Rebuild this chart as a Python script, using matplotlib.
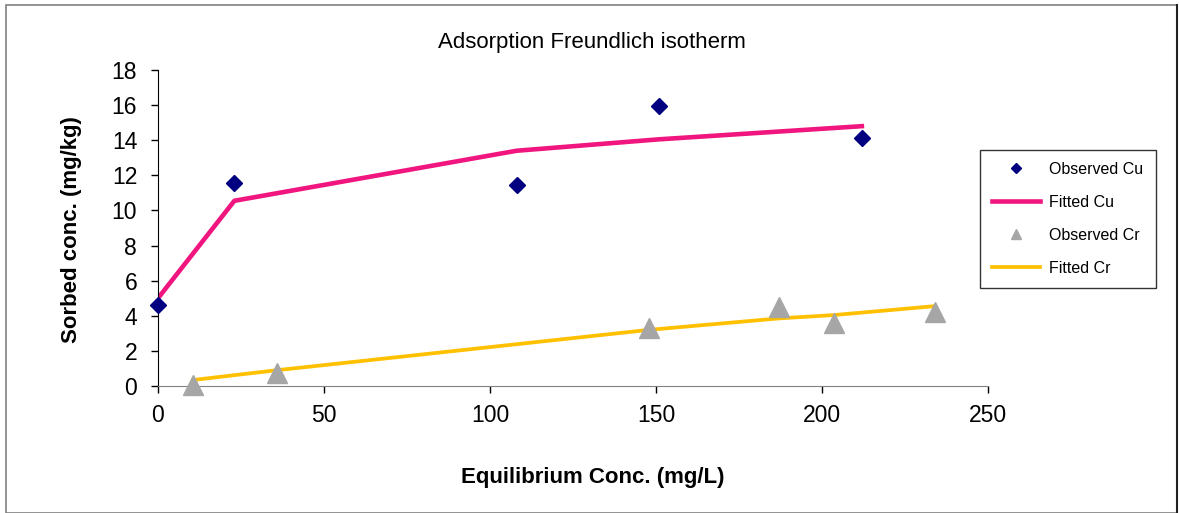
import matplotlib.pyplot as plt
from matplotlib.lines import Line2D
from matplotlib.patches import Rectangle

plt.rcParams['font.family'] = ['Liberation Sans', 'DejaVu Sans']

# observed / fitted copper
cu_x = [0, 23, 108, 150.8, 212]
cu_obs = [4.6, 11.55, 11.45, 15.95, 14.1]
cu_fit = [5.0, 10.55, 13.4, 14.05, 14.8]

# observed / fitted chromium
cr_x = [10.5, 35.8, 148, 187, 203.5, 234]
cr_obs = [0.05, 0.72, 3.32, 4.48, 3.6, 4.23]
cr_fit = [0.34, 0.9, 3.2, 3.85, 4.04, 4.55]

pink = '#F0157F'
yellow = '#FFC000'
navy = '#000080'
grey = '#A6A6A6'

fig = plt.figure(figsize=(11.79, 5.13), dpi=100)
ax = fig.add_axes([158/1179, 1 - 386/513, 830/1179, 316/513])

ax.plot(cu_x, cu_fit, color=pink, lw=3.3, zorder=2)
ax.plot(cr_x, cr_fit, color=yellow, lw=2.7, zorder=2)
ax.plot(cu_x, cu_obs, ls='none', marker='D', ms=8.5, color=navy, zorder=3, clip_on=False)
ax.plot(cr_x, cr_obs, ls='none', marker='^', ms=14, color=grey, zorder=3, clip_on=False)

ax.set_xlim(0, 250)
ax.set_ylim(0, 18)
ax.set_xticks(range(0, 251, 50))
ax.set_yticks(range(0, 19, 2))
ax.tick_params(labelsize=16.5, length=5, width=1, color='black')
ax.tick_params(axis='x', pad=8)
ax.tick_params(axis='y', pad=10)
ax.spines['top'].set_visible(False)
ax.spines['right'].set_visible(False)
ax.spines['bottom'].set_color('#808080')
ax.spines['left'].set_color('black')

fig.text(592/1179, 1 - 43/513, 'Adsorption Freundlich isotherm', ha='center', va='center', fontsize=16)
fig.text(593/1179, 1 - 478/513, 'Equilibrium Conc. (mg/L)', ha='center', va='center',
         fontsize=16, fontweight='bold')
fig.text(72/1179, 1 - 230/513, 'Sorbed conc. (mg/kg)', ha='center', va='center',
         fontsize=16, fontweight='bold', rotation=90)

handles = [
    Line2D([], [], ls='none', marker='D', ms=5.5, color=navy),
    Line2D([], [], color=pink, lw=3.3),
    Line2D([], [], ls='none', marker='^', ms=7, color=grey),
    Line2D([], [], color=yellow, lw=2.7),
]
labels = ['Observed Cu', 'Fitted Cu', 'Observed Cr', 'Fitted Cr']
leg = fig.legend(handles, labels, loc='upper left',
                 bbox_to_anchor=(980/1179, 1 - 150/513), bbox_transform=fig.transFigure,
                 fontsize=11.5, frameon=True, fancybox=False, edgecolor='black',
                 handlelength=3.0, handletextpad=0.6, labelspacing=1.12,
                 borderpad=0.75, borderaxespad=0)
leg.get_frame().set_linewidth(1)

# outer chart border
fig.patches.append(Rectangle((6/1179, 0), 1171/1179, 1 - 5/513, transform=fig.transFigure,
                             fill=False, edgecolor='#808080', lw=1.2))
fig.add_artist(Line2D([1177/1179, 1177/1179], [0, 1 - 5/513], transform=fig.transFigure,
                      color='#222222', lw=1.5))

fig.savefig('out.png', dpi=100)
